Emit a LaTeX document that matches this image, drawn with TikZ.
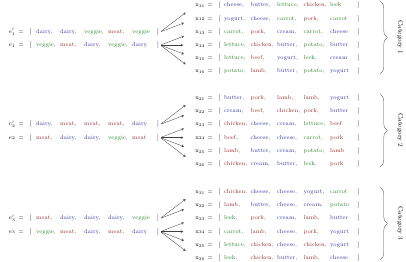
\documentclass[tikz,border=0pt]{standalone}
\usepackage{amsmath,amssymb}
\usepackage{tikz}
\usetikzlibrary{calc,decorations.pathreplacing}

\definecolor{dairyc}{RGB}{55,55,150}
\definecolor{meatc}{RGB}{150,45,45}
\definecolor{vegc}{RGB}{45,125,45}

% column widths (1px = 1.2pt)
\newlength\wx \setlength\wx{31.8pt}
\newlength\we \setlength\we{28.8pt}
\newcommand{\cw}{\wx}
\newcommand{\Dy}[1]{\makebox[\cw][l]{\textcolor{dairyc}{#1}}}
\newcommand{\Mt}[1]{\makebox[\cw][l]{\textcolor{meatc}{#1}}}
\newcommand{\Vg}[1]{\makebox[\cw][l]{\textcolor{vegc}{#1}}}
\newcommand{\xrow}[2]{\makebox[12pt][c]{$\mathrm{x}_{#1}$}\makebox[12pt][c]{$=$}%
  \makebox[10.8pt][c]{$[$}#2\makebox[4.8pt][c]{$]$}}
\newcommand{\erow}[2]{\renewcommand{\cw}{\we}\makebox[12pt][c]{$#1$}\makebox[9.6pt][c]{$=$}%
  \makebox[13.2pt][c]{$[$}#2\makebox[4.8pt][c]{$]$}}

\begin{document}
\begin{tikzpicture}[x=1.2pt, y=-1.2pt,
  row/.style={anchor=west, inner sep=0pt, font=\scriptsize},
  link/.style={->, >=stealth, black!75, shorten <=1pt, shorten >=14pt},
  group/.style={decorate, decoration={brace, amplitude=9pt}, black!70},
  cat/.style={rotate=-90, font=\footnotesize}]
  \useasboundingbox (0,0) rectangle (406,262);

  % category 1
  \node[row] (e1p) at (7,31.9) {\erow{e'_1}{\Dy{dairy,}\Dy{dairy,}\Vg{veggie,}\Mt{meat,}\Vg{veggie}}};
  \node[row] (e1) at (7,45.1) {\erow{e_1}{\Vg{veggie,}\Mt{meat,}\Dy{dairy,}\Vg{veggie,}\Dy{dairy}}};
  \node[row] (x11) at (195,5.5) {\xrow{11}{\Dy{cheese,}\Dy{butter,}\Vg{lettuce,}\Mt{chicken,}\Vg{leek}}};
  \node[row] (x12) at (195,18.7) {\xrow{12}{\Dy{yogurt,}\Dy{cheese,}\Vg{carrot,}\Mt{pork,}\Vg{carrot}}};
  \node[row] (x13) at (195,31.9) {\xrow{13}{\Vg{carrot,}\Mt{pork,}\Dy{cream,}\Vg{carrot,}\Dy{cheese}}};
  \node[row] (x14) at (195,45.1) {\xrow{14}{\Vg{lettuce,}\Mt{chicken,}\Dy{butter,}\Vg{potato,}\Dy{butter}}};
  \node[row] (x15) at (195,58.3) {\xrow{15}{\Vg{lettuce,}\Mt{beef,}\Dy{yogurt,}\Vg{leek,}\Dy{cream}}};
  \node[row] (x16) at (195,71.5) {\xrow{16}{\Vg{potato,}\Mt{lamb,}\Dy{butter,}\Vg{potato,}\Dy{yogurt}}};

  % category 2
  \node[row] (e2p) at (7,124.4) {\erow{e'_2}{\Dy{dairy,}\Mt{meat,}\Mt{meat,}\Mt{meat,}\Dy{dairy}}};
  \node[row] (e2) at (7,137.6) {\erow{e_2}{\Mt{meat,}\Dy{dairy,}\Dy{dairy,}\Vg{veggie,}\Mt{meat}}};
  \node[row] (x21) at (195,98) {\xrow{21}{\Dy{butter,}\Mt{pork,}\Mt{lamb,}\Mt{lamb,}\Dy{yogurt}}};
  \node[row] (x22) at (195,111.2) {\xrow{22}{\Dy{cream,}\Mt{beef,}\Mt{chicken,}\Mt{pork,}\Dy{butter}}};
  \node[row] (x23) at (195,124.4) {\xrow{23}{\Mt{chicken,}\Dy{cheese,}\Dy{cream,}\Vg{lettuce,}\Mt{beef}}};
  \node[row] (x24) at (195,137.6) {\xrow{24}{\Mt{beef,}\Dy{cheese,}\Dy{cheese,}\Vg{carrot,}\Mt{pork}}};
  \node[row] (x25) at (195,150.8) {\xrow{25}{\Mt{lamb,}\Dy{butter,}\Dy{cream,}\Vg{potato,}\Mt{lamb}}};
  \node[row] (x26) at (195,164) {\xrow{26}{\Mt{chicken,}\Dy{cream,}\Dy{butter,}\Vg{leek,}\Mt{pork}}};

  % category 3
  \node[row] (e3p) at (7,218.4) {\erow{e'_3}{\Mt{meat,}\Dy{dairy,}\Dy{dairy,}\Dy{dairy,}\Vg{veggie}}};
  \node[row] (e3) at (7,231.6) {\erow{e_3}{\Vg{veggie,}\Mt{meat,}\Dy{dairy,}\Mt{meat,}\Dy{dairy}}};
  \node[row] (x31) at (195,192) {\xrow{31}{\Mt{chicken,}\Dy{cheese,}\Dy{cheese,}\Dy{yogurt,}\Vg{carrot}}};
  \node[row] (x32) at (195,205.2) {\xrow{32}{\Mt{lamb,}\Dy{butter,}\Dy{cheese,}\Dy{cream,}\Vg{potato}}};
  \node[row] (x33) at (195,218.4) {\xrow{33}{\Vg{leek,}\Mt{pork,}\Dy{cream,}\Mt{lamb,}\Dy{butter}}};
  \node[row] (x34) at (195,231.6) {\xrow{34}{\Vg{carrot,}\Mt{lamb,}\Dy{cheese,}\Mt{pork,}\Dy{yogurt}}};
  \node[row] (x35) at (195,244.8) {\xrow{35}{\Vg{lettuce,}\Mt{chicken,}\Dy{cheese,}\Mt{chicken,}\Dy{yogurt}}};
  \node[row] (x36) at (195,258) {\xrow{36}{\Vg{leek,}\Mt{chicken,}\Dy{butter,}\Mt{lamb,}\Dy{cheese}}};

  % arrows
  \foreach \g in {1,2,3} {
    \foreach \k in {1,2}
      \draw[link] (e\g p.east) -- (x\g\k.west);
    \foreach \k in {3,4,5,6}
      \draw[link] (e\g.east) -- (x\g\k.west);
  }

  % braces and labels
  \draw[group] (380,1) -- (380,74);
  \draw[group] (380,94) -- (380,167);
  \draw[group] (380,187) -- (380,260);
  \node[cat] (c1) at (400,37.5) {Category 1};
  \node[cat] (c2) at (400,130.5) {Category 2};
  \node[cat] (c3) at (400,223.5) {Category 3};
\end{tikzpicture}
\end{document}
